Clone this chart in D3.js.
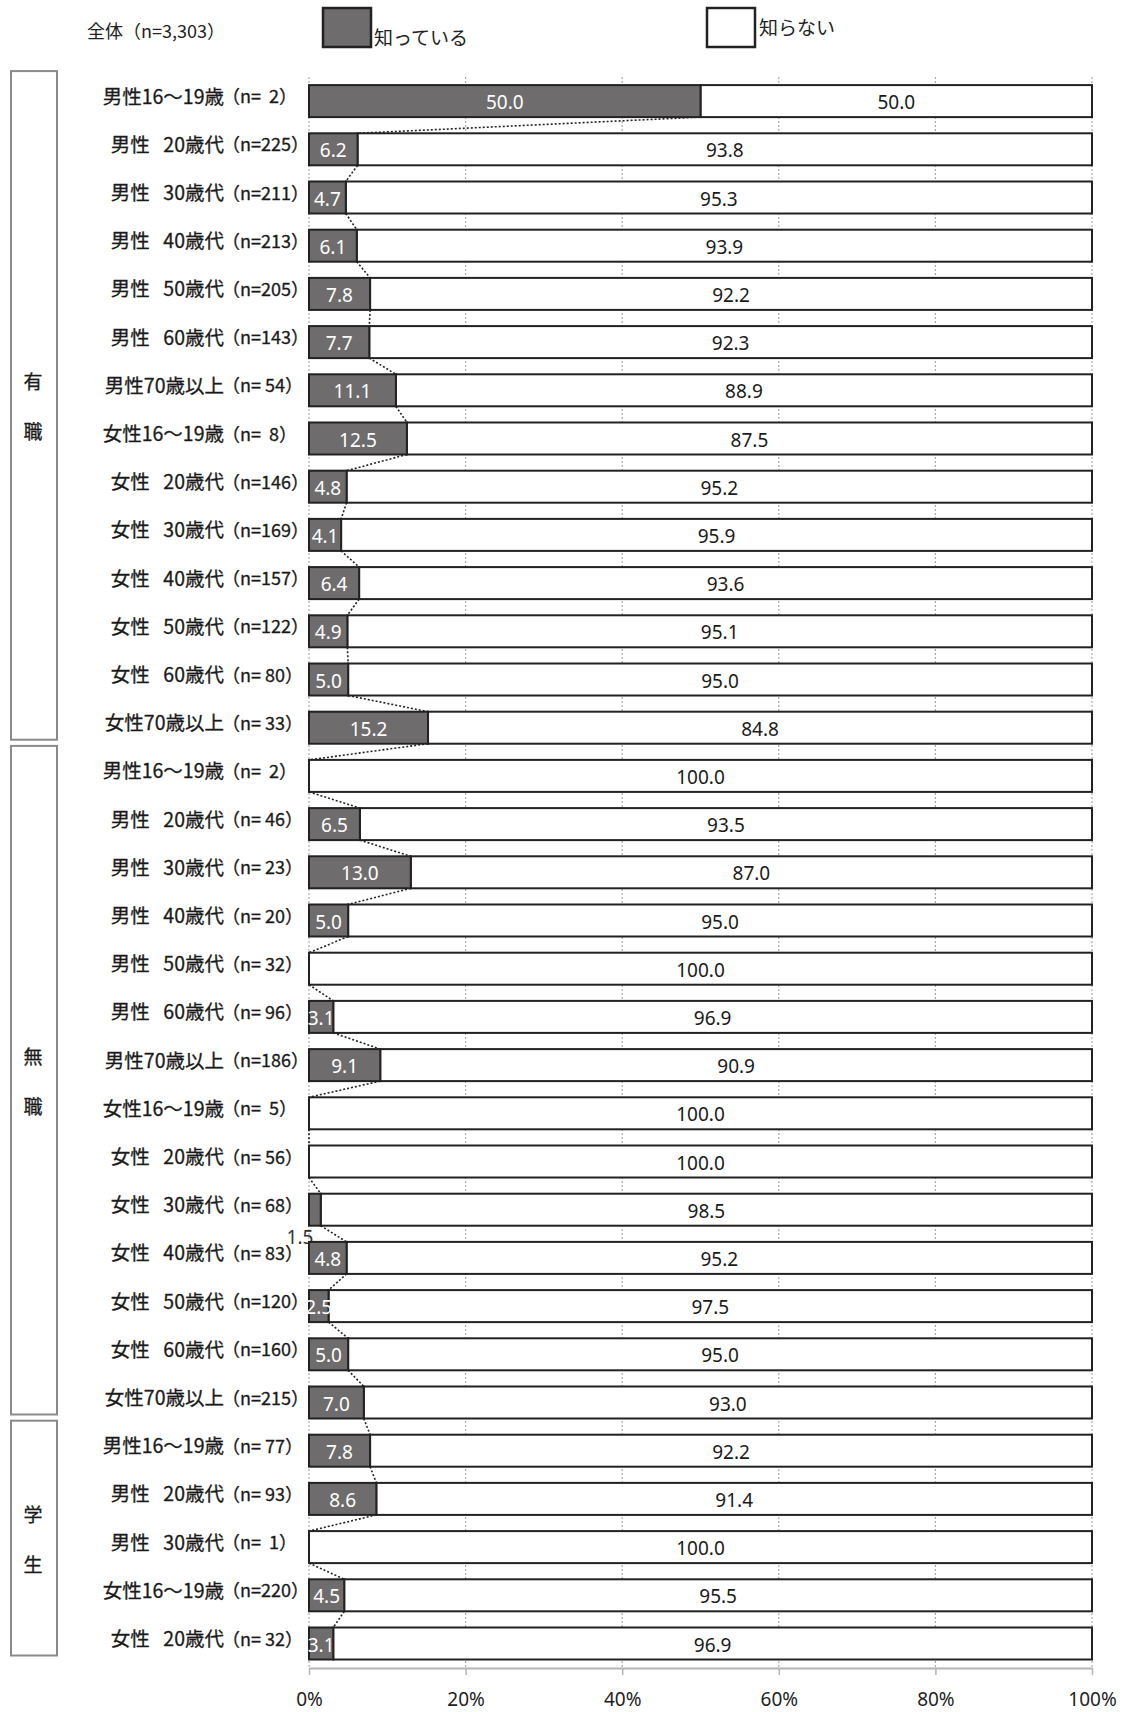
<!DOCTYPE html>
<html>
<head>
<meta charset="utf-8">
<script src="https://cdn.jsdelivr.net/npm/d3@7"></script>
<style>
  body { margin: 0; background: #fff; }
  text { font-family: "Noto Sans CJK JP", "Noto Sans", sans-serif; }
</style>
</head>
<body>
<svg id="chart"></svg>
<script>
const groups = ["有職", "無職", "学生"];
const groupSizes = [14, 14, 5];

const rowNames = [
  "男性16～19歳", "男性 20歳代", "男性 30歳代", "男性 40歳代", "男性 50歳代", "男性 60歳代", "男性70歳以上",
  "女性16～19歳", "女性 20歳代", "女性 30歳代", "女性 40歳代", "女性 50歳代", "女性 60歳代", "女性70歳以上",
  "男性16～19歳", "男性 20歳代", "男性 30歳代", "男性 40歳代", "男性 50歳代", "男性 60歳代", "男性70歳以上",
  "女性16～19歳", "女性 20歳代", "女性 30歳代", "女性 40歳代", "女性 50歳代", "女性 60歳代", "女性70歳以上",
  "男性16～19歳", "男性 20歳代", "男性 30歳代", "女性16～19歳", "女性 20歳代"
];
const rowN = [
  "n=  2", "n=225", "n=211", "n=213", "n=205", "n=143", "n= 54",
  "n=  8", "n=146", "n=169", "n=157", "n=122", "n= 80", "n= 33",
  "n=  2", "n= 46", "n= 23", "n= 20", "n= 32", "n= 96", "n=186",
  "n=  5", "n= 56", "n= 68", "n= 83", "n=120", "n=160", "n=215",
  "n= 77", "n= 93", "n=  1", "n=220", "n= 32"
];

// 知っている
const known = [
  50.0, 6.2, 4.7, 6.1, 7.8, 7.7, 11.1, 12.5, 4.8, 4.1, 6.4, 4.9, 5.0, 15.2,
  0, 6.5, 13.0, 5.0, 0, 3.1, 9.1, 0, 0, 1.5, 4.8, 2.5, 5.0, 7.0,
  7.8, 8.6, 0, 4.5, 3.1
];
// 知らない
const unknown = [
  50.0, 93.8, 95.3, 93.9, 92.2, 92.3, 88.9, 87.5, 95.2, 95.9, 93.6, 95.1, 95.0, 84.8,
  100.0, 93.5, 87.0, 95.0, 100.0, 96.9, 90.9, 100.0, 100.0, 98.5, 95.2, 97.5, 95.0, 93.0,
  92.2, 91.4, 100.0, 95.5, 96.9
];

const xTicks = [0, 20, 40, 60, 80, 100];
const totalLabel = "全体（n=3,303）";
const seriesNames = ["知っている", "知らない"];

const width = 1123, height = 1712;
const darkFill = "#6e6c6c", edge = "#222";

const svg = d3.select("#chart").attr("width", width).attr("height", height);

const x = d3.scaleLinear().domain([0, 100]).range([309, 1092]);
const y = d3.scaleBand()
  .domain(d3.range(rowNames.length))
  .range([77, 1667.6])
  .paddingInner(0.336)
  .paddingOuter(0.168);
const bw = y.bandwidth();

// grid
svg.append("g")
  .selectAll("line")
  .data(xTicks)
  .enter()
  .append("line")
  .attr("x1", d => x(d)).attr("x2", d => x(d))
  .attr("y1", 77).attr("y2", 1668)
  .attr("stroke", "#aaa")
  .attr("stroke-width", 1.2)
  .attr("stroke-dasharray", "2,2");

// axis
const axis = svg.append("g")
  .attr("transform", "translate(0,1668)")
  .call(d3.axisBottom(x).tickValues(xTicks).tickFormat(d => d + "%").tickSize(7).tickSizeOuter(0).tickPadding(18));
axis.select(".domain").attr("stroke", "#b4b4b4").attr("stroke-width", 2);
axis.selectAll(".tick line").attr("stroke", "#b4b4b4").attr("stroke-width", 1.5);
axis.selectAll(".tick text")
  .attr("font-size", 19)
  .attr("fill", "#222")
  .style("font-family", "'Noto Sans', sans-serif");

// series lines
svg.append("g")
  .selectAll("line")
  .data(d3.range(known.length - 1))
  .enter()
  .append("line")
  .attr("x1", i => x(known[i])).attr("y1", i => y(i) + bw)
  .attr("x2", i => x(known[i + 1])).attr("y2", i => y(i + 1))
  .attr("stroke", edge)
  .attr("stroke-width", 1.6)
  .attr("stroke-dasharray", "2,2");

// bars
const rows = svg.append("g")
  .selectAll("g")
  .data(d3.range(rowNames.length))
  .enter()
  .append("g");

rows.append("rect")
  .attr("x", i => x(known[i]))
  .attr("y", i => y(i))
  .attr("width", i => x(known[i] + unknown[i]) - x(known[i]))
  .attr("height", bw)
  .attr("fill", "#fff")
  .attr("stroke", edge)
  .attr("stroke-width", 2);

rows.filter(i => known[i] > 0)
  .append("rect")
  .attr("x", x(0))
  .attr("y", i => y(i))
  .attr("width", i => x(known[i]) - x(0))
  .attr("height", bw)
  .attr("fill", darkFill)
  .attr("stroke", edge)
  .attr("stroke-width", 2);

// value labels
rows.filter(i => known[i] >= 2)
  .append("text")
  .attr("x", i => x(known[i] / 2))
  .attr("y", i => y(i) + bw / 2 + 1)
  .attr("text-anchor", "middle")
  .attr("dominant-baseline", "central")
  .attr("font-size", 19)
  .attr("fill", "#fff")
  .style("font-family", "'Noto Sans', sans-serif")
  .text(i => known[i].toFixed(1));

// small value moved below its bar
rows.filter(i => known[i] > 0 && known[i] < 2)
  .append("text")
  .attr("x", x(0) - 9)
  .attr("y", i => y(i) + bw + 11)
  .attr("text-anchor", "middle")
  .attr("dominant-baseline", "central")
  .attr("font-size", 19)
  .attr("fill", "#333")
  .style("font-family", "'Noto Sans', sans-serif")
  .text(i => known[i].toFixed(1));

rows.append("text")
  .attr("x", i => x(known[i] + unknown[i] / 2))
  .attr("y", i => y(i) + bw / 2 + 1)
  .attr("text-anchor", "middle")
  .attr("dominant-baseline", "central")
  .attr("font-size", 19)
  .attr("fill", "#1a1a1a")
  .style("font-family", "'Noto Sans', sans-serif")
  .text(i => unknown[i].toFixed(1));

// row labels (prefix right-aligned, n part left-aligned)
rows.append("text")
  .attr("x", 224)
  .attr("y", i => y(i) + bw / 2 - 6)
  .attr("text-anchor", "end")
  .attr("dominant-baseline", "central")
  .attr("font-size", 19.5)
  .attr("fill", "#1a1a1a")
  .attr("stroke", "#1a1a1a")
  .attr("stroke-width", 0.3)
  .style("white-space", "pre")
  .text(i => rowNames[i].replace(" ", "\u2002\u2009"));

rows.append("text")
  .attr("x", 222)
  .attr("y", i => y(i) + bw / 2 - 6)
  .attr("dominant-baseline", "central")
  .attr("font-size", 18)
  .attr("fill", "#1a1a1a")
  .attr("stroke", "#1a1a1a")
  .attr("stroke-width", 0.3)
  .style("white-space", "pre")
  .text(i => "（" + rowN[i] + "）");

// group boxes
let start = 0;
groups.forEach((g, gi) => {
  const first = start, last = start + groupSizes[gi] - 1;
  const top = y(first) - 14, bottom = y(last) + bw - 4;
  svg.append("rect")
    .attr("x", 11).attr("y", top)
    .attr("width", 46).attr("height", bottom - top)
    .attr("fill", "#fff")
    .attr("stroke", "#8a8a8a")
    .attr("stroke-width", 2);
  const mid = (top + bottom) / 2;
  g.split("").forEach((ch, k) => {
    svg.append("text")
      .attr("x", 33)
      .attr("y", mid + (k - 0.5) * 50)
      .attr("text-anchor", "middle")
      .attr("dominant-baseline", "central")
      .attr("font-size", 19)
      .attr("fill", "#1a1a1a")
      .attr("stroke", "#1a1a1a")
      .attr("stroke-width", 0.3)
      .text(ch);
  });
  start += groupSizes[gi];
});

// legend
svg.append("text")
  .attr("x", 87).attr("y", 30)
  .attr("dominant-baseline", "central")
  .attr("font-size", 18)
  .attr("fill", "#222")
  .text(totalLabel);

svg.append("rect")
  .attr("x", 323).attr("y", 8).attr("width", 48).attr("height", 39)
  .attr("fill", darkFill).attr("stroke", edge).attr("stroke-width", 2.5);
svg.append("text")
  .attr("x", 374).attr("y", 36)
  .attr("dominant-baseline", "central")
  .attr("font-size", 19)
  .attr("fill", "#222")
  .text(seriesNames[0]);

svg.append("rect")
  .attr("x", 707).attr("y", 8).attr("width", 48).attr("height", 39)
  .attr("fill", "#fff").attr("stroke", edge).attr("stroke-width", 2.5);
svg.append("text")
  .attr("x", 759).attr("y", 26)
  .attr("dominant-baseline", "central")
  .attr("font-size", 19)
  .attr("fill", "#222")
  .text(seriesNames[1]);
</script>
</body>
</html>
